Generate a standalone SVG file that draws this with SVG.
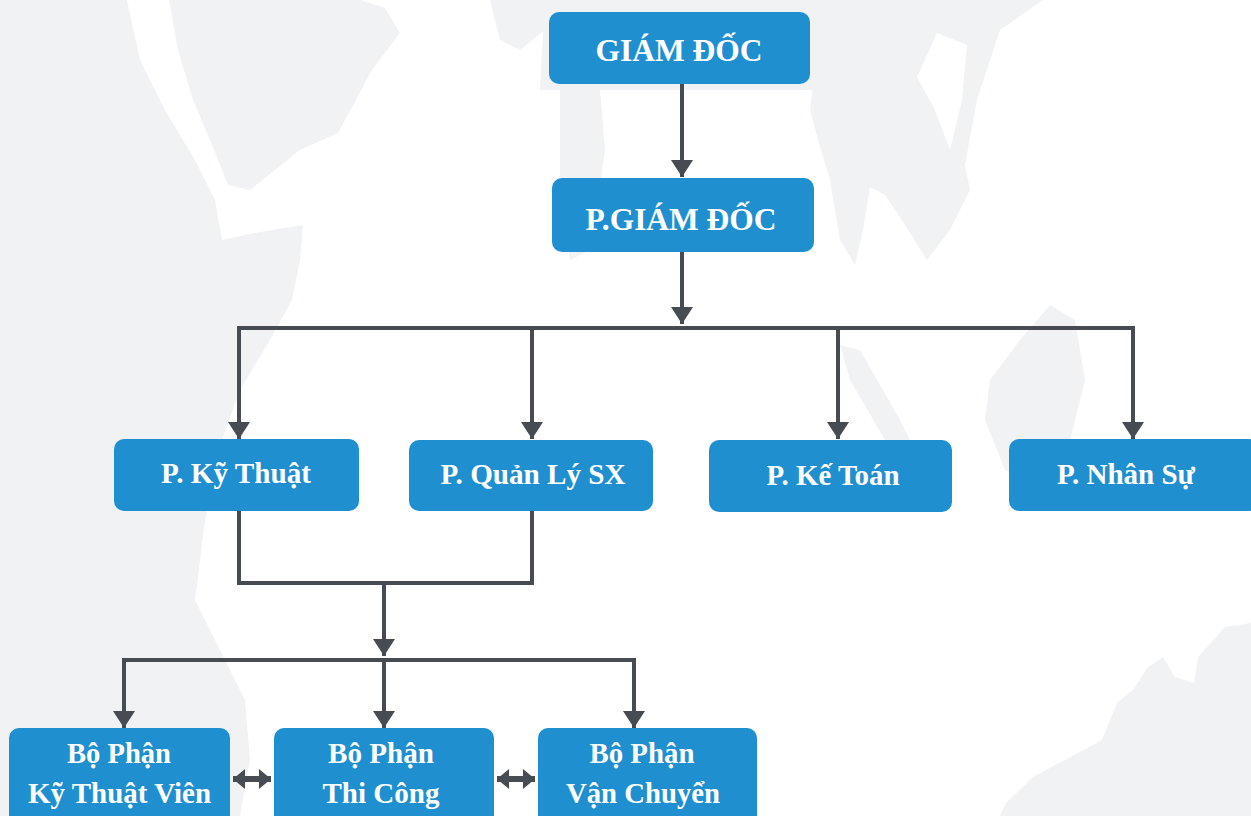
<svg xmlns="http://www.w3.org/2000/svg" width="1251" height="816" viewBox="0 0 1251 816">
<style>
.bg{fill:#f1f2f3}
.wh{fill:#ffffff}
.box{fill:#1f8fd0}
.t{fill:#ffffff;font-family:"Liberation Serif","DejaVu Serif",serif;font-weight:bold;text-anchor:middle}
.t1{font-size:31px}
.t2{font-size:30px}
.t3{font-size:29px}
.c{fill:none;stroke:#464c51;stroke-width:4}
.d{fill:none;stroke:#464c51;stroke-width:6}
</style>
<defs>
<marker id="ah" markerUnits="userSpaceOnUse" markerWidth="18" markerHeight="22" refX="17" refY="11" orient="auto">
<path d="M0,0 L17,11 L0,22 Z" fill="#464c51"/>
</marker>
<marker id="dh" markerUnits="userSpaceOnUse" markerWidth="13" markerHeight="20" refX="12" refY="10" orient="auto-start-reverse">
<path d="M0,0 L12,10 L0,20 Z" fill="#464c51"/>
</marker>
</defs>
<rect width="1251" height="816" fill="#ffffff"/>
<g id="background">
<path class="bg" d="M0,0 L127,0 L140,60 L165,110 L195,160 L215,200 L222,240 L260,232 L303,225 L300,260 L292,300 L270,340 L240,390 L222,440 L205,520 L195,600 L215,640 L245,700 L250,760 L240,816 L0,816 Z"/>
<path class="bg" d="M169,0 L360,0 L385,8 L400,33 L372,70 L338,133 L300,150 L250,190 L228,185 L210,140 L193,100 L178,50 Z"/>
<path class="bg" d="M490,0 L545,0 L545,30 L520,50 L500,40 Z"/>
<path class="bg" d="M545,0 L1043,0 L1000,30 L977,100 L965,165 L970,190 L950,230 L927,260 L905,225 L885,195 L870,187 L863,230 L855,265 L840,240 L830,180 L818,140 L810,110 L812,90 L540,90 Z"/>
<path class="wh" d="M917,77 L937,33 L967,45 L962,100 L950,150 L935,110 Z"/>
<path class="bg" d="M560,90 L600,90 L605,150 L590,250 L570,260 L560,200 Z"/>
<path class="bg" d="M840,345 L860,350 L900,420 L925,470 L915,482 L885,440 L850,380 Z"/>
<path class="bg" d="M1050,305 L1075,320 L1085,380 L1070,440 L1030,480 L1005,470 L985,420 L990,380 L1020,340 Z"/>
<path class="bg" d="M1000,816 L1006,803 L1033,777 L1102,740 L1117,703 L1133,690 L1148,667 L1163,657 L1175,677 L1194,683 L1198,657 L1225,627 L1251,623 L1251,816 Z"/>
</g>
<g id="connectors">
<line class="c" x1="682" y1="84" x2="682" y2="177" marker-end="url(#ah)"/>
<line class="c" x1="682" y1="252" x2="682" y2="324" marker-end="url(#ah)"/>
<line class="c" x1="237" y1="328" x2="1135" y2="328"/>
<line class="c" x1="239" y1="326" x2="239" y2="439" marker-end="url(#ah)"/>
<line class="c" x1="532" y1="328" x2="532" y2="439" marker-end="url(#ah)"/>
<line class="c" x1="838" y1="328" x2="838" y2="439" marker-end="url(#ah)"/>
<line class="c" x1="1133" y1="326" x2="1133" y2="439" marker-end="url(#ah)"/>
<polyline class="c" points="239,511 239,583 532,583 532,511"/>
<line class="c" x1="384" y1="583" x2="384" y2="656" marker-end="url(#ah)"/>
<line class="c" x1="122" y1="660" x2="636" y2="660"/>
<line class="c" x1="124" y1="658" x2="124" y2="728" marker-end="url(#ah)"/>
<line class="c" x1="384" y1="660" x2="384" y2="728" marker-end="url(#ah)"/>
<line class="c" x1="634" y1="658" x2="634" y2="728" marker-end="url(#ah)"/>
<line class="d" x1="233" y1="779" x2="271" y2="779" marker-start="url(#dh)" marker-end="url(#dh)"/>
<line class="d" x1="497" y1="779" x2="535" y2="779" marker-start="url(#dh)" marker-end="url(#dh)"/>
</g>
<g id="giam-doc">
<rect class="box" x="549" y="12" width="261" height="72" rx="10"/>
<text class="t t1" x="679" y="61" textLength="167" lengthAdjust="spacingAndGlyphs">GIÁM ĐỐC</text>
</g>
<g id="p-giam-doc">
<rect class="box" x="552" y="178" width="262" height="74" rx="10"/>
<text class="t t1" x="681" y="230" textLength="191" lengthAdjust="spacingAndGlyphs">P.GIÁM ĐỐC</text>
</g>
<g id="p-ky-thuat">
<rect class="box" x="114" y="439" width="245" height="72" rx="10"/>
<text class="t t2" x="236" y="483" textLength="150" lengthAdjust="spacingAndGlyphs">P. Kỹ Thuật</text>
</g>
<g id="p-quan-ly-sx">
<rect class="box" x="409" y="440" width="244" height="71" rx="10"/>
<text class="t t2" x="533" y="484" textLength="185" lengthAdjust="spacingAndGlyphs">P. Quản Lý SX</text>
</g>
<g id="p-ke-toan">
<rect class="box" x="709" y="440" width="243" height="72" rx="10"/>
<text class="t t2" x="833" y="485" textLength="133" lengthAdjust="spacingAndGlyphs">P. Kế Toán</text>
</g>
<g id="p-nhan-su">
<rect class="box" x="1009" y="439" width="250" height="72" rx="10"/>
<text class="t t2" x="1126" y="484" textLength="138" lengthAdjust="spacingAndGlyphs">P. Nhân Sự</text>
</g>
<g id="bp-ky-thuat-vien">
<rect class="box" x="9" y="728" width="221" height="100" rx="10"/>
<text class="t t3" x="119" y="763" textLength="104" lengthAdjust="spacingAndGlyphs">Bộ Phận</text>
<text class="t t3" x="119.5" y="803" textLength="183" lengthAdjust="spacingAndGlyphs">Kỹ Thuật Viên</text>
</g>
<g id="bp-thi-cong">
<rect class="box" x="274" y="728" width="220" height="100" rx="10"/>
<text class="t t3" x="381" y="763" textLength="106" lengthAdjust="spacingAndGlyphs">Bộ Phận</text>
<text class="t t3" x="381" y="803" textLength="117" lengthAdjust="spacingAndGlyphs">Thi Công</text>
</g>
<g id="bp-van-chuyen">
<rect class="box" x="538" y="728" width="219" height="100" rx="10"/>
<text class="t t3" x="642" y="763" textLength="105" lengthAdjust="spacingAndGlyphs">Bộ Phận</text>
<text class="t t3" x="643" y="803" textLength="154" lengthAdjust="spacingAndGlyphs">Vận Chuyển</text>
</g>
</svg>
